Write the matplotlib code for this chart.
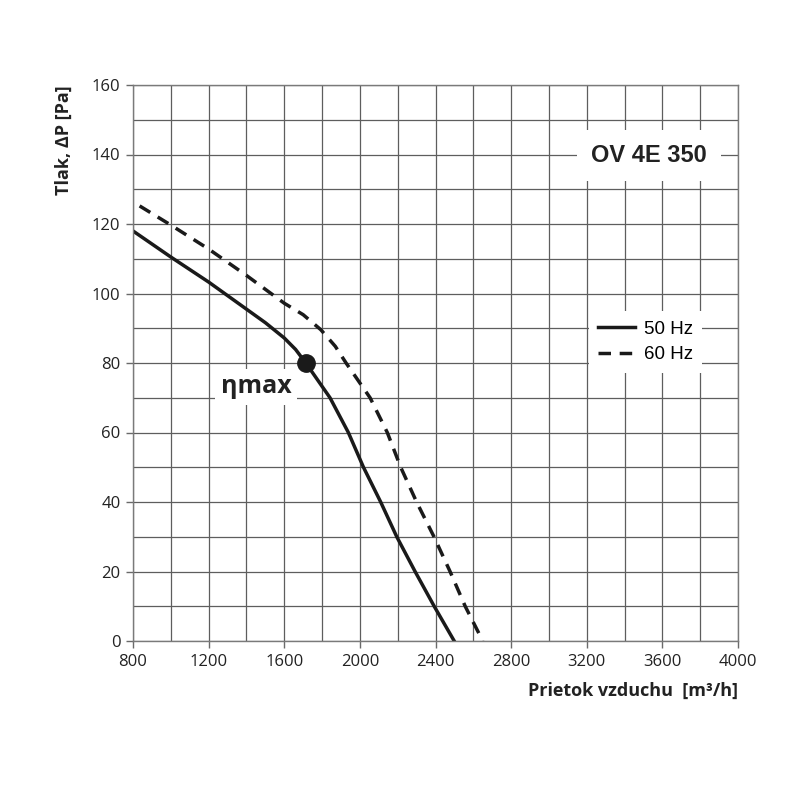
import numpy as np
import matplotlib.pyplot as plt

# 50 Hz curve
flow_50 = [800, 1000, 1200, 1400, 1500, 1600, 1660, 1714, 1842, 1939, 2019, 2110, 2195, 2292, 2393, 2499]
press_50 = [118, 110.5, 103.3, 95.5, 91.6, 87.2, 83.9, 80, 70, 60, 50, 40, 30, 20, 10, 0]

# 60 Hz curve
flow_60 = [835, 1000, 1200, 1400, 1600, 1700, 1793, 1870, 1927, 2054, 2145, 2216, 2300, 2392, 2477, 2557, 2650]
press_60 = [125.2, 119.7, 112.8, 105.2, 97.2, 93.9, 89.6, 84.8, 80, 70, 60, 50, 40, 30, 20, 10, 0]

# max efficiency point
eta_x, eta_y = 1714, 80

x_ticks = np.arange(800, 4001, 400)
y_ticks = np.arange(0, 161, 20)

fig = plt.figure(figsize=(8, 8), dpi=100)
ax = fig.add_axes([0.16625, 0.19875, 0.75625, 0.695])

ax.set_xlim(800, 4000)
ax.set_ylim(0, 160)

# grid every 200 m3/h and 10 Pa
ax.set_xticks(np.arange(800, 4001, 200), minor=True)
ax.set_yticks(np.arange(0, 161, 10), minor=True)
ax.set_xticks(x_ticks)
ax.set_yticks(y_ticks)
ax.grid(True, which='both', color='#5e5e5e', linewidth=0.9)
ax.set_axisbelow(True)

ax.tick_params(axis='both', which='major', direction='out', length=5,
               width=1, color='#6a6a6a', labelsize=12, pad=4)
ax.tick_params(axis='both', which='minor', length=0)
for lab in ax.get_xticklabels() + ax.get_yticklabels():
    lab.set_family('Open Sans')
    lab.set_color('#222222')

for spine in ax.spines.values():
    spine.set_color('#7a7a7a')
    spine.set_linewidth(1)

ax.plot(flow_50, press_50, color='#1a1a1a', linewidth=2.5, label='50 Hz',
        solid_joinstyle='round')
ax.plot(flow_60, press_60, color='#1a1a1a', linewidth=2.5, label='60 Hz',
        linestyle=(0, (3.6, 2.5)))
ax.plot(eta_x, eta_y, 'o', color='#1a1a1a', markersize=12.5, zorder=5)

ax.text(1451, 73.1, 'ηmax', fontsize=18, fontweight='bold', family='Open Sans',
        ha='center', va='center', color='#222222',
        bbox=dict(facecolor='white', edgecolor='none', pad=4))

ax.text(3529, 139.6, 'OV 4E 350', fontsize=17, fontweight='bold',
        family='Liberation Sans', ha='center', va='center', color='#222222',
        bbox=dict(facecolor='white', edgecolor='none', pad=10))

leg = ax.legend(loc='center left', bbox_to_anchor=(0.753, 0.538),
                frameon=True, fancybox=False, handlelength=2.0,
                handletextpad=0.45, borderaxespad=0,
                prop={'family': 'Liberation Sans', 'size': 13.5},
                borderpad=0.5, labelspacing=0.45)
leg.get_frame().set_edgecolor('none')
leg.get_frame().set_facecolor('white')
leg.get_frame().set_alpha(1)

ax.set_ylabel('Tlak, ΔP [Pa]', fontsize=13, fontweight='bold',
              family='Open Sans', loc='top', labelpad=14, color='#222222')
ax.set_xlabel('Prietok vzduchu  [m³/h]', fontsize=13, fontweight='bold',
              family='Open Sans', loc='right', labelpad=9, color='#222222')

fig.savefig('out.png', dpi=100, facecolor='white')
